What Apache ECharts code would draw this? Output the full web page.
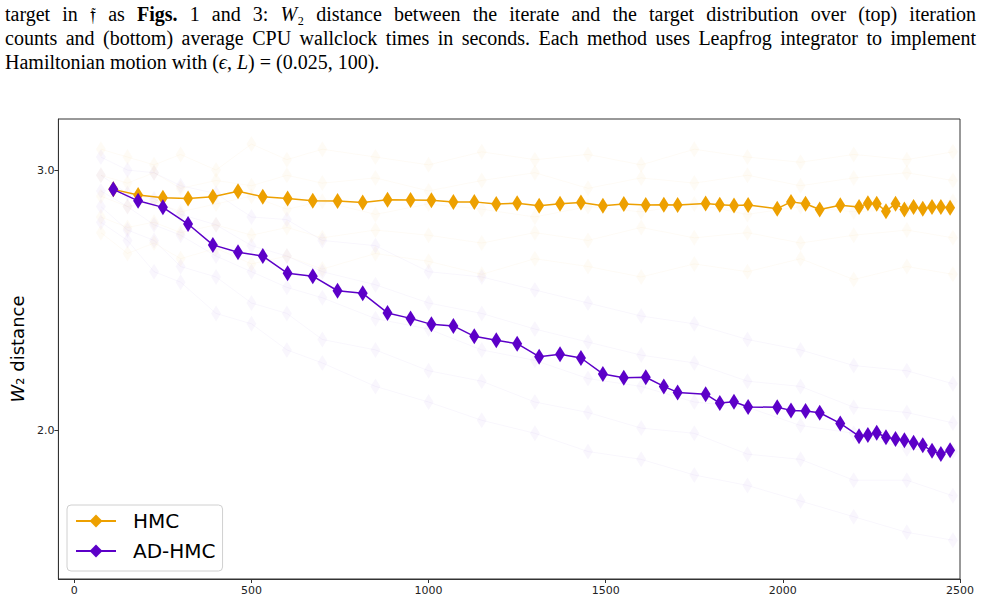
<!DOCTYPE html>
<html>
<head>
<meta charset="utf-8">
<script src="https://cdn.jsdelivr.net/npm/echarts@6/dist/echarts.min.js"></script>
<style>
  html, body { margin: 0; padding: 0; background: #fff; }
  #chart { width: 983px; height: 604px; }
</style>
</head>
<body>
<div id="chart"></div>
<script>
// mean curves (iteration count vs W2 distance)
const iterX = [110, 180, 250, 321, 391, 462, 532, 602, 673, 743, 814, 884, 949, 1008, 1070, 1129,
  1191, 1250, 1312, 1371, 1430, 1492, 1551, 1613, 1664, 1703, 1782, 1822, 1862, 1902, 1984, 2023,
  2064, 2104, 2162, 2215, 2240, 2265, 2291, 2318, 2343, 2369, 2395, 2421, 2446, 2472];
const hmcW2 = [2.926, 2.904, 2.894, 2.891, 2.898, 2.919, 2.898, 2.891, 2.882, 2.881, 2.876, 2.886,
  2.885, 2.884, 2.878, 2.878, 2.870, 2.873, 2.863, 2.871, 2.876, 2.863, 2.870, 2.866, 2.867, 2.866,
  2.872, 2.867, 2.864, 2.866, 2.852, 2.878, 2.871, 2.849, 2.865, 2.858, 2.873, 2.871, 2.842, 2.871,
  2.849, 2.858, 2.852, 2.858, 2.858, 2.855];
const adhmcW2 = [2.926, 2.882, 2.857, 2.793, 2.713, 2.685, 2.670, 2.604, 2.593, 2.537, 2.527, 2.452,
  2.431, 2.408, 2.402, 2.362, 2.347, 2.334, 2.284, 2.293, 2.279, 2.218, 2.203, 2.205, 2.170, 2.147,
  2.140, 2.106, 2.111, 2.091, 2.090, 2.078, 2.076, 2.069, 2.028, 1.979, 1.984, 1.992, 1.975, 1.968,
  1.963, 1.954, 1.944, 1.923, 1.911, 1.925];

// individual runs (faint background), read roughly off the cloud
const runX = [75, 150, 225, 300, 400, 500, 600, 700, 850, 1000, 1150, 1300, 1450, 1600, 1750, 1900,
  2050, 2200, 2350, 2480];
const hmcRuns = [
  [3.08, 3.05, 3.02, 3.06, 3.00, 3.10, 3.04, 3.08, 3.05, 3.02, 3.07, 3.04, 3.06, 3.02, 3.08, 3.05, 3.03, 3.06, 3.04, 3.07],
  [2.98, 2.95, 2.99, 2.93, 2.96, 2.94, 2.98, 2.95, 2.97, 2.92, 2.96, 2.99, 2.93, 2.97, 2.95, 2.98, 2.94, 2.97, 2.99, 2.96],
  [2.90, 2.86, 2.88, 2.84, 2.87, 2.90, 2.85, 2.88, 2.83, 2.87, 2.85, 2.82, 2.86, 2.84, 2.87, 2.83, 2.86, 2.84, 2.85, 2.88],
  [2.82, 2.78, 2.80, 2.76, 2.79, 2.75, 2.78, 2.74, 2.77, 2.75, 2.72, 2.76, 2.73, 2.78, 2.74, 2.76, 2.72, 2.75, 2.77, 2.74],
  [2.76, 2.68, 2.72, 2.66, 2.70, 2.64, 2.67, 2.62, 2.68, 2.65, 2.60, 2.66, 2.63, 2.59, 2.64, 2.61, 2.66, 2.58, 2.63, 2.60]
];
const adhmcRuns = [
  [3.05, 3.00, 2.99, 2.94, 2.91, 2.82, 2.81, 2.73, 2.71, 2.61, 2.59, 2.54, 2.49, 2.44, 2.41, 2.35, 2.31, 2.25, 2.23, 2.18],
  [2.98, 2.91, 2.89, 2.83, 2.79, 2.71, 2.67, 2.61, 2.56, 2.49, 2.45, 2.39, 2.34, 2.29, 2.26, 2.19, 2.17, 2.09, 2.07, 2.03],
  [2.92, 2.86, 2.79, 2.75, 2.67, 2.61, 2.55, 2.51, 2.43, 2.39, 2.31, 2.27, 2.20, 2.17, 2.11, 2.09, 2.02, 1.99, 1.93, 1.92],
  [2.86, 2.77, 2.73, 2.63, 2.59, 2.49, 2.45, 2.35, 2.31, 2.23, 2.19, 2.11, 2.07, 2.01, 1.99, 1.91, 1.89, 1.81, 1.81, 1.75],
  [2.80, 2.73, 2.61, 2.57, 2.45, 2.41, 2.31, 2.26, 2.17, 2.11, 2.04, 1.99, 1.92, 1.89, 1.83, 1.79, 1.73, 1.67, 1.61, 1.58]
];

const xTicks = [0, 500, 1000, 1500, 2000, 2500];
const yTicks = [2.0, 3.0];

const captionLines = [
  'target in 𝔣 as {b|Figs.} 1 and 3: {i|W}{n|₂} distance between the iterate and the target distribution over (top) iteration',
  'counts and (bottom) average CPU wallclock times in seconds. Each method uses Leapfrog integrator to implement',
  'Hamiltonian motion with ({i|ϵ}, {i|L}) = (0.025, 100).'
];

const HMC_COLOR = '#eda000';
const ADHMC_COLOR = '#5c00c8';
const CAP_FONT = '"Liberation Serif", "DejaVu Serif", serif';
const CAP_SIZE = 20;

const capRich = {
  n: { fontFamily: CAP_FONT, fontSize: CAP_SIZE, fill: '#000' },
  b: { fontFamily: CAP_FONT, fontSize: CAP_SIZE, fontWeight: 'bold', fill: '#000' },
  i: { fontFamily: CAP_FONT, fontSize: CAP_SIZE, fontStyle: 'italic', fill: '#000' }
};

const mctx = document.createElement('canvas').getContext('2d');
function wordWidth(word) {
  let w = 0;
  const re = /\{(\w)\|([^}]*)\}|([^{]+)/g;
  let m;
  while ((m = re.exec(word))) {
    const key = m[1] || 'n';
    const txt = m[1] ? m[2] : m[3];
    const st = capRich[key];
    mctx.font = `${st.fontStyle || 'normal'} ${st.fontWeight || 'normal'} ${CAP_SIZE}px ${CAP_FONT}`;
    w += mctx.measureText(txt).width;
  }
  return w;
}
function wrapPlain(word) {
  return word.replace(/(^|\})([^{}]+)(?=\{|$)/g, (s, a, b) => a + '{n|' + b + '}');
}

const graphics = [];
const capLeft = 5, capRight = 976;
captionLines.forEach((line, li) => {
  const words = line.split(' ');
  const widths = words.map(wordWidth);
  const total = widths.reduce((a, b) => a + b, 0);
  mctx.font = `normal normal ${CAP_SIZE}px ${CAP_FONT}`;
  const space = mctx.measureText(' ').width;
  const gap = li < 2 ? (capRight - capLeft - total) / (words.length - 1) : space;
  let x = capLeft;
  words.forEach((w, i) => {
    graphics.push({
      type: 'text', x: x, y: 14 + li * 24,
      style: { text: wrapPlain(w), rich: capRich, verticalAlign: 'middle', fontFamily: CAP_FONT, fontSize: CAP_SIZE, fill: '#000' }
    });
    x += widths[i] + gap;
  });
});

const series = [];
hmcRuns.forEach(r => series.push({
  type: 'line', silent: true, z: 1,
  data: runX.map((x, i) => [x, r[i]]),
  symbol: 'diamond', symbolSize: [10, 16],
  itemStyle: { color: HMC_COLOR, opacity: 0.04 },
  lineStyle: { color: HMC_COLOR, width: 1, opacity: 0.04 }
}));
adhmcRuns.forEach(r => series.push({
  type: 'line', silent: true, z: 1,
  data: runX.map((x, i) => [x, r[i]]),
  symbol: 'diamond', symbolSize: [10, 16],
  itemStyle: { color: ADHMC_COLOR, opacity: 0.035 },
  lineStyle: { color: ADHMC_COLOR, width: 1, opacity: 0.035 }
}));
series.push({
  name: 'HMC', type: 'line', z: 3,
  data: iterX.map((x, i) => [x, hmcW2[i]]),
  symbol: 'diamond', symbolSize: [10, 16],
  itemStyle: { color: HMC_COLOR },
  lineStyle: { color: HMC_COLOR, width: 1.5 }
});
series.push({
  name: 'AD-HMC', type: 'line', z: 4,
  data: iterX.map((x, i) => [x, adhmcW2[i]]),
  symbol: 'diamond', symbolSize: [10, 16],
  itemStyle: { color: ADHMC_COLOR },
  lineStyle: { color: ADHMC_COLOR, width: 1.5 }
});

const chart = echarts.init(document.getElementById('chart'), null, { renderer: 'svg' });
chart.setOption({
  animation: false,
  backgroundColor: '#fff',
  grid: { left: 56, right: 23, top: 119, bottom: 25, show: true, borderColor: '#333', borderWidth: 1, backgroundColor: 'transparent' },
  legend: {
    data: ['HMC', 'AD-HMC'],
    orient: 'vertical', left: 67, top: 505,
    itemWidth: 40, itemHeight: 16, itemGap: 10,
    padding: [6, 7, 10, 8],
    borderColor: '#d0d0d0', borderWidth: 1, borderRadius: 4,
    backgroundColor: 'rgba(255,255,255,0.8)',
    textStyle: { fontFamily: 'DejaVu Sans', fontSize: 20, color: '#000', lineHeight: 20, padding: [0, 0, 0, 12] }
  },
  xAxis: {
    type: 'value', min: -45, max: 2500,
    axisLine: { show: true, onZero: false, lineStyle: { color: '#333' } },
    axisTick: { show: true, length: 4, customValues: xTicks, lineStyle: { color: '#333' } },
    axisLabel: { customValues: xTicks, formatter: v => String(v), fontFamily: 'DejaVu Sans', fontSize: 11, color: '#222', margin: 6 },
    splitLine: { show: false }
  },
  yAxis: {
    type: 'value', min: 1.431, max: 3.196,
    name: '{i|W}{n|₂ distance}', nameLocation: 'middle', nameGap: 30, nameRotate: 90,
    nameTextStyle: {
      rich: {
        i: { fontFamily: 'DejaVu Sans', fontSize: 18, fontStyle: 'italic', color: '#000' },
        n: { fontFamily: 'DejaVu Sans', fontSize: 18, color: '#000' }
      }
    },
    axisLine: { show: true, onZero: false, lineStyle: { color: '#333' } },
    axisTick: { show: true, length: 4, customValues: yTicks, lineStyle: { color: '#333' } },
    axisLabel: { customValues: yTicks, formatter: v => v.toFixed(1), fontFamily: 'DejaVu Sans', fontSize: 11, color: '#222', margin: 4 },
    splitLine: { show: false }
  },
  graphic: graphics,
  series: series
});
</script>
</body>
</html>
